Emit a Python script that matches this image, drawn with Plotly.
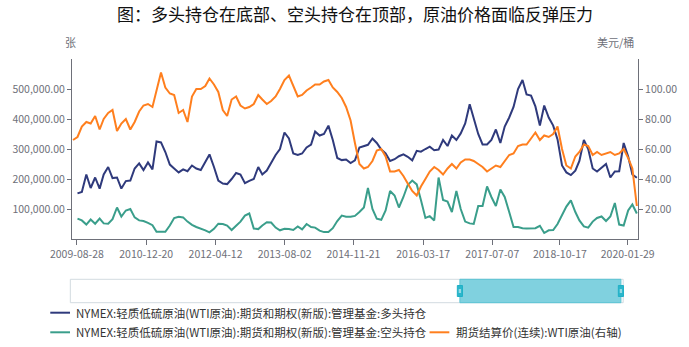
import pandas as pd
import plotly.graph_objects as go

# ---------------- data ----------------
months = pd.date_range("2009-08-01", "2020-04-01", freq="MS")

wti_price = [
    66, 68, 75, 78, 77, 82, 73, 80, 84, 86,
    72, 77, 80, 73, 78, 85, 89, 90, 88, 100,
    111, 101, 97, 96, 84, 86, 78, 95, 100, 100,
    102, 107, 103, 98, 86, 82, 93, 95, 89, 87,
    88, 90, 96, 93, 90, 92, 95, 100, 106, 109,
    102, 95, 96, 99, 101, 103, 103, 105, 106, 101,
    98, 94, 88, 79, 64, 50, 47, 48, 52, 59,
    60, 55, 45, 45, 46, 42, 37, 32, 29, 35,
    40, 45, 48, 46, 43, 47, 50, 47, 51, 53,
    53, 52, 50, 48, 45, 47, 49, 48, 52, 56,
    57, 62, 63, 63, 67, 71, 66, 69, 68, 70,
    75, 60, 49, 47, 55, 58, 63, 62, 56, 58,
    56, 57, 58, 56, 57, 60, 54, 47, 22,
]

long_k = [
    152, 157, 215, 170, 205, 168, 215, 240, 203, 205,
    168, 193, 195, 235, 252, 230, 255, 232, 325, 322,
    290, 248, 235, 222, 232, 226, 245, 235, 230, 255,
    282, 240, 195, 185, 183, 200, 220, 215, 186, 194,
    200, 240, 215, 228, 255, 280, 300, 355, 335, 285,
    280, 285, 305, 315, 358, 345, 350, 378, 330, 270,
    263, 265, 253, 262, 305, 310, 314, 335, 320, 298,
    285, 260, 266, 276, 282, 274, 262, 294, 291, 300,
    308, 296, 298, 330, 310, 345, 330, 352, 385, 449,
    405, 350, 315, 315, 330, 365, 320, 375, 405, 440,
    500, 530, 482, 478, 442, 378, 445, 405, 378, 332,
    245, 222, 213, 228, 260, 330, 300, 235, 225, 236,
    250, 205, 225, 226, 320, 275, 215, 204,
]

short_k = [
    68, 62, 48, 65, 51, 68, 52, 51, 66, 105,
    75, 95, 100, 72, 62, 60, 54, 46, 24, 23,
    24, 45, 70, 74, 72, 58, 47, 40, 35, 29,
    22, 34, 51, 50, 45, 30, 44, 58, 78, 85,
    35, 33, 45, 56, 55, 38, 29, 34, 33, 30,
    42, 32, 50, 40, 38, 28, 23, 23, 36, 60,
    78, 74, 74, 77, 90, 105, 170, 100, 68, 64,
    95, 160, 145, 105, 140, 180, 195, 182, 130, 70,
    76, 62, 205, 130, 125, 90, 160, 100, 58, 52,
    50, 110, 110, 175, 140, 110, 165, 140, 90, 40,
    40, 36, 35, 35, 36, 44, 20, 29, 30, 50,
    82, 108, 129, 90, 62, 42, 38, 58, 70, 75,
    60, 75, 120, 48, 45, 95, 115, 85,
]

long_pos = [v * 1000 for v in long_k]
short_pos = [v * 1000 for v in short_k]
pos_dates = months[1:]

x_ticks = ["2009-08-28", "2010-12-20", "2012-04-12", "2013-08-02", "2014-11-21",
           "2016-03-17", "2017-07-07", "2018-10-17", "2020-01-29"]
left_ticks = [100000, 200000, 300000, 400000, 500000]
right_ticks = [20, 40, 60, 80, 100]

name_long = "NYMEX:轻质低硫原油(WTI原油):期货和期权(新版):管理基金:多头持仓"
name_short = "NYMEX:轻质低硫原油(WTI原油):期货和期权(新版):管理基金:空头持仓"
name_price = "期货结算价(连续):WTI原油(右轴)"

C_LONG = "#2f3a7c"
C_SHORT = "#3a9e8b"
C_PRICE = "#ff7f1e"
AX = "#6e7079"
FONT = "Noto Sans CJK SC"

# ---------------- layout geometry ----------------
W, H = 689, 347
ML, MR, MT, MB = 70, 46, 59, 108
PW, PH = W - ML - MR, H - MT - MB


def px(x):
    return (x - ML) / PW


def py(y):
    return (H - MB - y) / PH


fig = go.Figure()
fig.add_trace(go.Scatter(x=pos_dates, y=long_pos, name=name_long, mode="lines",
                         line=dict(color=C_LONG, width=2), yaxis="y"))
fig.add_trace(go.Scatter(x=pos_dates, y=short_pos, name=name_short, mode="lines",
                         line=dict(color=C_SHORT, width=2), yaxis="y"))
fig.add_trace(go.Scatter(x=months, y=wti_price, name=name_price, mode="lines",
                         line=dict(color=C_PRICE, width=2), yaxis="y2"))

shapes = []
annotations = []

# custom legend
legend_items = [
    (48, 68, 312.7, C_LONG, name_long),
    (48, 68, 332.3, C_SHORT, name_short),
    (432, 452, 332.3, C_PRICE, name_price),
]
for x0, x1, yy, col, txt in legend_items:
    shapes.append(dict(type="line", xref="paper", yref="paper",
                       x0=px(x0), x1=px(x1), y0=py(yy), y1=py(yy),
                       line=dict(color=col, width=2)))
    annotations.append(dict(text=txt, xref="paper", yref="paper",
                            x=px(x1 + 4.5), y=py(yy), xanchor="left", yanchor="middle",
                            showarrow=False, font=dict(family=FONT, size=11.5, color="#333")))

# axis unit labels
annotations.append(dict(text="张", xref="paper", yref="paper", x=px(68), y=py(42),
                        xanchor="center", yanchor="middle", showarrow=False,
                        font=dict(family=FONT, size=11, color=AX)))
annotations.append(dict(text="美元/桶", xref="paper", yref="paper", x=px(620), y=py(42),
                        xanchor="center", yanchor="middle", showarrow=False,
                        font=dict(family=FONT, size=11, color=AX)))

# data-zoom slider look
shapes.append(dict(type="rect", xref="paper", yref="paper",
                   x0=px(68.3), x1=px(628), y0=py(302.7), y1=py(279.3),
                   line=dict(color="#d2dbe0", width=1), fillcolor="rgba(0,0,0,0)"))
shapes.append(dict(type="rect", xref="paper", yref="paper",
                   x0=px(462.7), x1=px(625.7), y0=py(302.7), y1=py(279.3),
                   line=dict(color="#5cc4d4", width=1), fillcolor="rgba(92,196,214,0.78)"))
for hx in (462.7, 625.7):
    shapes.append(dict(type="rect", xref="paper", yref="paper",
                       x0=px(hx - 2.6), x1=px(hx + 2.6), y0=py(296.5), y1=py(285.5),
                       line=dict(color="#1fb0c6", width=1), fillcolor="#2bb6cb"))
    shapes.append(dict(type="line", xref="paper", yref="paper",
                       x0=px(hx - 1.2), x1=px(hx + 1.2), y0=py(290), y1=py(290),
                       line=dict(color="white", width=1)))
    shapes.append(dict(type="line", xref="paper", yref="paper",
                       x0=px(hx - 1.2), x1=px(hx + 1.2), y0=py(292), y1=py(292),
                       line=dict(color="white", width=1)))

fig.update_layout(
    width=W, height=H,
    margin=dict(l=ML, r=MR, t=MT, b=MB, pad=0),
    paper_bgcolor="white", plot_bgcolor="white",
    showlegend=False,
    title=dict(text="图：多头持仓在底部、空头持仓在顶部，原油价格面临反弹压力",
               x=0.5, xref="paper", xanchor="center", y=1 - 15 / H, yanchor="middle",
               font=dict(family=FONT, size=17, color="#111")),
    font=dict(family=FONT, color=AX),
    xaxis=dict(type="date", range=["2009-07-25", "2020-04-09"],
               tickmode="array", tickvals=x_ticks, ticktext=x_ticks,
               showgrid=False, zeroline=False, showline=True, linecolor=AX, linewidth=1,
               ticks="outside", ticklen=5, tickcolor=AX,
               tickfont=dict(family=FONT, size=10.5, color=AX)),
    yaxis=dict(range=[0, 600000], tickmode="array", tickvals=left_ticks, tickformat=",.2f",
               showgrid=False, zeroline=False, showline=True, linecolor=AX, linewidth=1,
               ticks="outside", ticklen=4, tickcolor=AX,
               tickfont=dict(family=FONT, size=10.5, color=AX)),
    yaxis2=dict(range=[0, 120], overlaying="y", side="right", tickmode="array",
                tickvals=right_ticks, tickformat=".2f",
                showgrid=False, zeroline=False, showline=True, linecolor=AX, linewidth=1,
                ticks="outside", ticklen=4, tickcolor=AX,
                tickfont=dict(family=FONT, size=10.5, color=AX)),
    shapes=shapes,
    annotations=annotations,
)

fig.write_html("out.html")
